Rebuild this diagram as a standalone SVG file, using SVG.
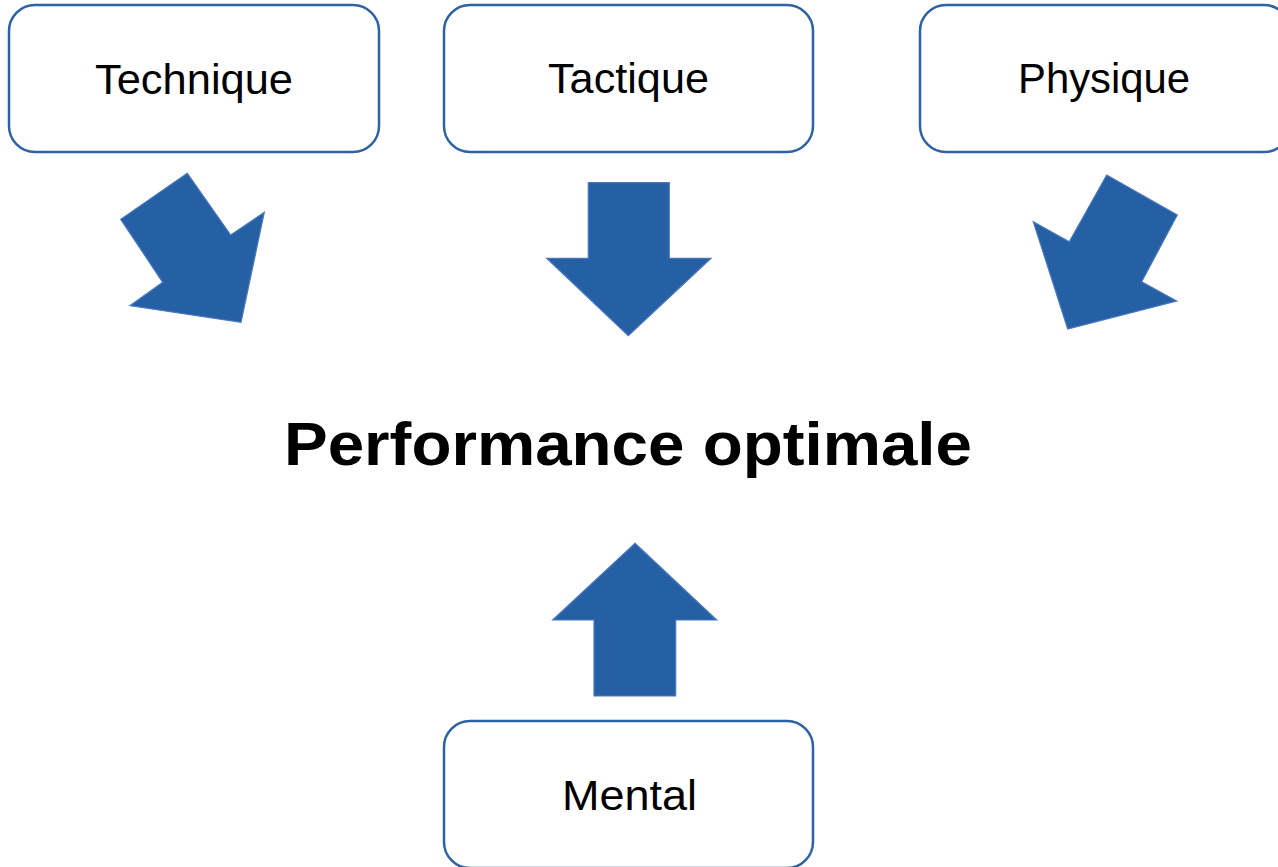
<svg xmlns="http://www.w3.org/2000/svg" width="1278" height="867" viewBox="0 0 1278 867">
<style>
.box{fill:#ffffff;stroke:#2E62A6;stroke-width:2.5}
.lbl{font-family:"Liberation Sans",Arial,sans-serif;font-size:43px;fill:#000000;text-anchor:middle}
.arr{fill:#2660A4;stroke:#4A78C0;stroke-width:1.2;stroke-linejoin:miter}
.title{font-family:"Liberation Sans",Arial,sans-serif;font-size:62px;font-weight:bold;fill:#000000}
</style>
<rect width="1278" height="867" fill="#ffffff"/>
<g id="technique"><rect class="box" x="9" y="5" width="370" height="147" rx="26"/><text class="lbl" x="194" y="94" textLength="198" lengthAdjust="spacingAndGlyphs">Technique</text></g>
<g id="tactique"><rect class="box" x="444" y="5" width="369" height="147" rx="26"/><text class="lbl" x="628.5" y="93" textLength="161" lengthAdjust="spacingAndGlyphs">Tactique</text></g>
<g id="physique"><rect class="box" x="920" y="5" width="370" height="147" rx="26"/><text class="lbl" x="1104" y="93" textLength="172" lengthAdjust="spacingAndGlyphs">Physique</text></g>
<g id="mental"><rect class="box" x="444" y="721" width="369" height="147" rx="26"/><text class="lbl" x="629.5" y="810" textLength="135" lengthAdjust="spacingAndGlyphs">Mental</text></g>
<g id="performance"><text class="title" x="284" y="465" textLength="688" lengthAdjust="spacingAndGlyphs">Performance optimale</text></g>
<g id="connectors">
<polygon class="arr" points="187.3,173.3 120.7,219.3 162.7,282.3 130,305.7 241,322.3 264.3,212.3 230.7,235"/>
<polygon class="arr" points="588.3,182.7 669.3,182.7 669.3,258.3 711,258.3 628.3,335.7 546.7,258.3 588.3,258.3"/>
<polygon class="arr" points="1106.7,175 1177.3,215 1141.7,281.7 1176.7,301 1067.7,329 1033.3,221.7 1069.3,241.7"/>
<polygon class="arr" points="635,543.3 716.7,620 675.7,620 675.7,696 594,696 594,620 552.7,620"/>
</g>
</svg>
